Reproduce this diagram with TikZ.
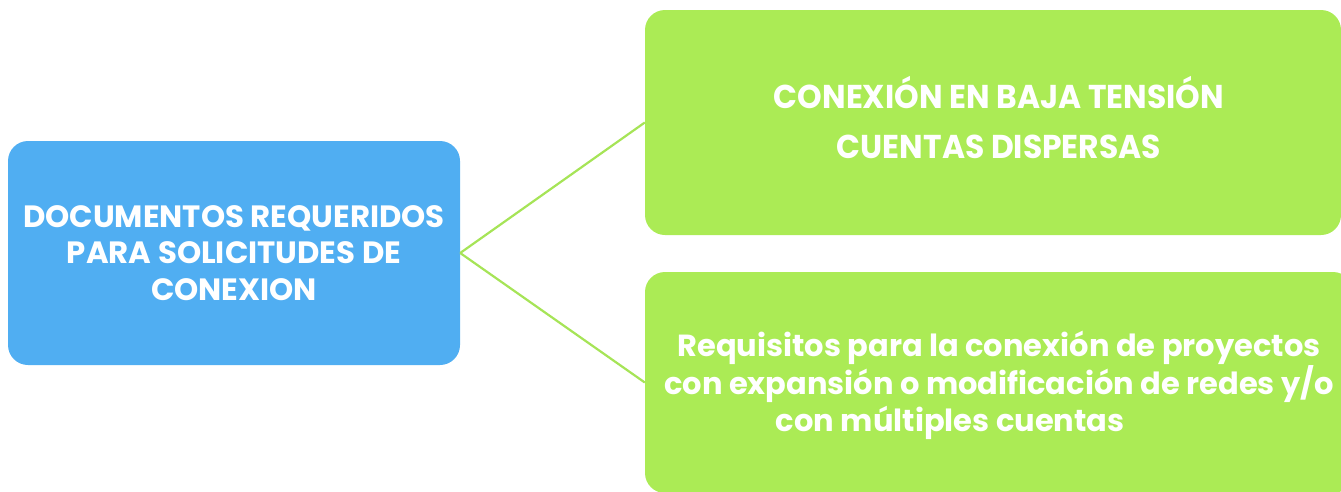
\documentclass[tikz,border=0pt]{standalone}
\usepackage{fontspec}
\setmainfont{Poppins}
\newfontfamily\narrowfont{Poppins}[FakeStretch=0.95]
\definecolor{boxblue}{HTML}{50AEF2}
\definecolor{boxgreen}{HTML}{ABEB55}
\definecolor{linkgreen}{HTML}{A6E457}
\begin{document}
\begin{tikzpicture}[x=1pt,y=-1pt,
  box/.style={rounded corners=20pt, draw=none, text=white, align=center, inner sep=0pt},
  boxtext/.style={text=white, align=center, inner sep=0pt},
  link/.style={draw=linkgreen, line width=2.2pt}]
\useasboundingbox (0,0) rectangle (1341,491);
\node[box, fill=boxblue, minimum width=452pt, minimum height=224pt,
  font=\fontsize{30.8}{36.5}\selectfont\bfseries] (root) at (234,253)
  {DOCUMENTOS REQUERIDOS\\PARA SOLICITUDES DE\\CONEXION};
\node[box, fill=boxgreen, minimum width=696pt, minimum height=225pt,
  label={[boxtext, xshift=6pt, yshift=5pt, font=\narrowfont\fontsize{33}{50}\selectfont\bfseries]center:CONEXIÓN EN BAJA TENSIÓN\\CUENTAS DISPERSAS}] (top) at (993,122.5) {};
\node[box, fill=boxgreen, minimum width=708pt, minimum height=221pt,
  label={[boxtext, yshift=-3pt, font=\fontsize{30.5}{36.5}\selectfont\bfseries]center:Requisitos para la conexión de proyectos\\con expansión o modificación de redes y/o\\con múltiples cuentas\hspace*{3.2em}}] (bottom) at (999,382.5) {};
\draw[link] (root.east) -- (top.west);
\draw[link] (root.east) -- (bottom.west);
\end{tikzpicture}
\end{document}
